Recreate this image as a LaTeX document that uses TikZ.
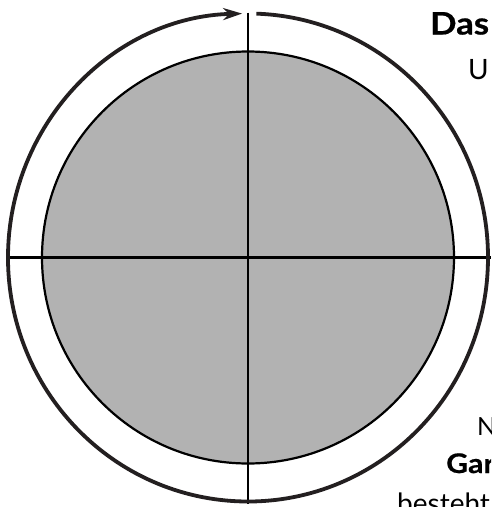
\documentclass[tikz,border=0pt]{standalone}
\usepackage{fontspec}
\setmainfont{Lato}
\newfontfamily\headfont[FakeStretch=1.12, FakeBold=0.6]{Lato}
\usetikzlibrary{arrows.meta}
\definecolor{ink}{HTML}{231F20}
\tikzset{
  disk/.style={draw=black, fill=black!30, line width=2.2pt},
  axis/.style={draw=black, line width=2.2pt},
  rim/.style={draw=ink, line width=3.8pt},
  lbl/.style={anchor=base west, inner sep=0pt, text=black},
}
\begin{document}
\begin{tikzpicture}[x=1pt, y=-1pt]
\clip (0,0) rectangle (491,507);
\fill[white] (0,0) rectangle (491,507);
\coordinate (c) at (248,257.5);
\path[disk] (c) circle (206);
\coordinate (vtop) at (248,12.5);
\coordinate (vbot) at (248,504);
\coordinate (hl) at (7,257.5);
\coordinate (hr) at (491,257.5);
\draw[axis] (vtop) -- (vbot);
\draw[axis] (hl) -- (hr);
\draw[rim, -{Stealth[length=19pt, width=12pt, inset=6pt]}]
  ([shift={(88:240 and -244)}]c) arc[start angle=88, end angle=-268.6, x radius=240, y radius=-244];
\node[lbl, font=\headfont\bfseries\fontsize{31}{36}\selectfont] (das) at (430,34.5) {Das};
\node[lbl, font=\fontsize{28}{32}\selectfont] (u) at (468,79) {U};
\node[lbl, font=\fontsize{25}{30}\selectfont] (n) at (477,435) {N};
\node[lbl, font=\headfont\bfseries\fontsize{27}{32}\selectfont] (gar) at (446,473) {Gar};
\node[lbl, font=\fontsize{28}{32}\selectfont] (best) at (397,513) {besteht};
\end{tikzpicture}
\end{document}
